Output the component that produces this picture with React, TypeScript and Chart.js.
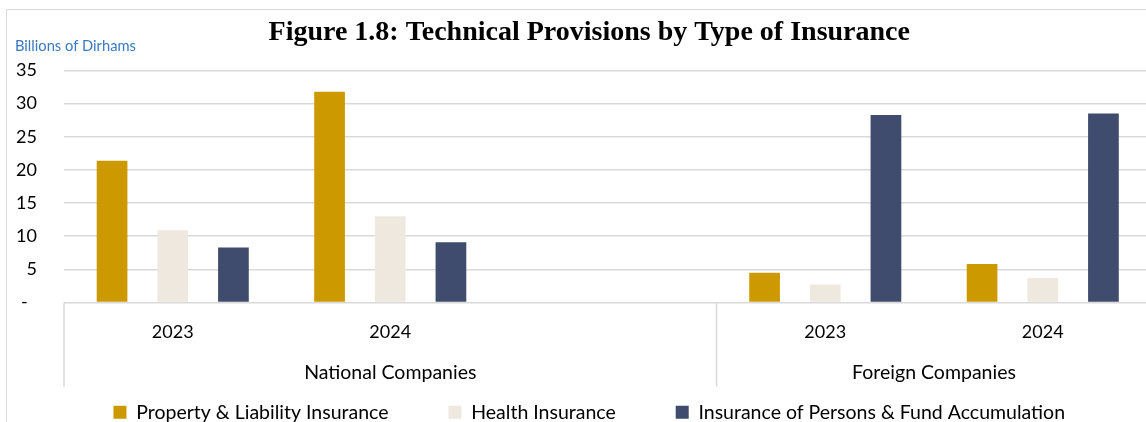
import React, { useEffect, useRef } from "react";
import { Chart, registerables } from "chart.js";

Chart.register(...registerables);

const TITLE = "Figure 1.8: Technical Provisions by Type of Insurance";
const UNIT = "Billions of Dirhams";
const categories = ["2023", "2024", "", "2023", "2024"];
const groupNames = ["National Companies", "Foreign Companies"];
const groupStart = [0, 3];
const groupEnd = [2, 4];
const seriesNames = [
  "Property & Liability Insurance",
  "Health Insurance",
  "Insurance of Persons & Fund Accumulation",
];
const propertyLiability = [21.4, 31.8, null, 4.5, 5.8];
const health = [10.9, 13.0, null, 2.7, 3.7];
const persons = [8.3, 9.1, null, 28.3, 28.5];
const yTicks = [0, 5, 10, 15, 20, 25, 30, 35];

const COLORS = ["#CC9900", "#EEE8DF", "#404C6E"];
const GRID = "#d9d9d9";
const FONT = "Lato";

const CW = 1155;
const CH = 422;

const groupPlugin = {
  id: "groupLabels",
  afterDraw(chart: any) {
    const { ctx, chartArea } = chart;
    const x = chart.scales.x;
    const half = (x.getPixelForTick(1) - x.getPixelForTick(0)) / 2;
    const bottom = chartArea.bottom;
    ctx.save();
    ctx.strokeStyle = GRID;
    ctx.lineWidth = 1.5;
    const seps = [chartArea.left];
    for (let g = 0; g < groupNames.length; g++) {
      seps.push(x.getPixelForTick(groupEnd[g]) + half);
    }
    seps.forEach((sx) => {
      ctx.beginPath();
      ctx.moveTo(sx, bottom);
      ctx.lineTo(sx, bottom + 84);
      ctx.stroke();
    });
    ctx.fillStyle = "#000";
    ctx.font = `19.5px ${FONT}`;
    ctx.textAlign = "center";
    ctx.textBaseline = "middle";
    for (let g = 0; g < groupNames.length; g++) {
      let cx: number;
      if (groupEnd[g] - groupStart[g] === 2) {
        cx = x.getPixelForTick(groupStart[g] + 1);
      } else {
        cx = (x.getPixelForTick(groupStart[g]) + x.getPixelForTick(groupEnd[g])) / 2;
      }
      ctx.fillText(groupNames[g], cx, bottom + 70);
    }
    ctx.fillStyle = "#3a78c0";
    ctx.font = `14.7px ${FONT}`;
    ctx.textAlign = "left";
    ctx.fillText(UNIT, 8, 36);
    ctx.restore();
  },
};

export default function App() {
  const ref = useRef<HTMLCanvasElement>(null);
  useEffect(() => {
    if (!ref.current) return;
    const chart = new Chart(ref.current, {
      type: "bar",
      data: {
        labels: categories,
        datasets: [
          { label: seriesNames[0], data: propertyLiability, backgroundColor: COLORS[0] },
          { label: seriesNames[1], data: health, backgroundColor: COLORS[1] },
          { label: seriesNames[2], data: persons, backgroundColor: COLORS[2] },
        ],
      },
      options: {
        responsive: false,
        animation: false,
        layout: { padding: { left: 20, right: 10.5, top: 0, bottom: 0 } },
        datasets: {
          bar: { barPercentage: 0.506, categoryPercentage: 0.837 },
        },
        plugins: {
          title: {
            display: true,
            text: TITLE,
            color: "#000",
            font: { family: "Liberation Serif", size: 28, weight: "bold" },
            padding: { top: 5.7, bottom: 21.2 },
          },
          legend: {
            display: true,
            position: "bottom",
            labels: {
              boxWidth: 13,
              boxHeight: 13,
              padding: 60,
              color: "#000",
              font: { family: FONT, size: 19.5 },
            },
          },
          tooltip: { enabled: false },
        },
        scales: {
          x: {
            grid: { display: false },
            border: { display: false },
            ticks: {
              color: "#000",
              font: { family: FONT, size: 18 },
              padding: 11,
              maxRotation: 0,
              autoSkip: false,
            },
            afterFit: (s: any) => {
              s.height = 40;
            },
          },
          y: {
            min: 0,
            max: 35,
            afterBuildTicks: (s: any) => {
              s.ticks = yTicks.map((v) => ({ value: v }));
            },
            grid: { color: GRID, lineWidth: 1.5, drawTicks: false },
            border: { display: false },
            ticks: {
              color: "#000",
              font: { family: FONT, size: 18 },
              padding: 27,
              callback: (v: any) => (Number(v) === 0 ? "-  " : String(v)),
            },
            afterFit: (s: any) => {
              s.width = 37;
              s._computeLabelArea = () => undefined;
            },
          },
        },
      },
      plugins: [groupPlugin],
    });
    return () => chart.destroy();
  }, []);
  return (
    <div
      style={{
        position: "fixed",
        left: 0,
        top: 0,
        width: 1146,
        height: 422,
        overflow: "hidden",
        background: "#fff",
      }}
    >
      <div
        style={{
          position: "absolute",
          left: 6,
          top: 9,
          width: 1200,
          height: 500,
          borderLeft: `1px solid ${GRID}`,
          borderTop: `1px solid ${GRID}`,
        }}
      >
        <canvas
          ref={ref}
          width={CW}
          height={CH}
          style={{ position: "absolute", left: 0, top: 0, width: CW, height: CH }}
        />
      </div>
    </div>
  );
}
